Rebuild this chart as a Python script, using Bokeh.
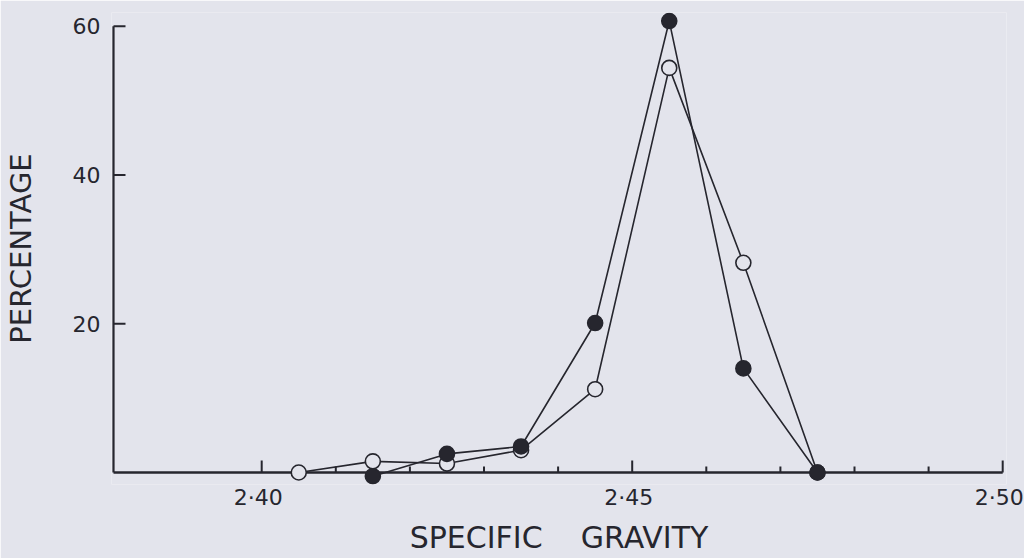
from bokeh.plotting import figure
from bokeh.models import FixedTicker, CustomJSTickFormatter, Range1d
from bokeh.embed import file_html
from bokeh.resources import INLINE

# ---- data ----
sg_open = [2.405, 2.415, 2.425, 2.435, 2.445, 2.455, 2.465, 2.475]
pct_open = [0.0, 1.5, 1.2, 3.0, 11.2, 54.4, 28.2, 0.0]
sg_filled = [2.415, 2.425, 2.435, 2.445, 2.455, 2.465, 2.475]
pct_filled = [-0.5, 2.5, 3.5, 20.1, 60.7, 14.0, 0.0]

x_major = [2.40, 2.45, 2.50]
x_minor = [2.41, 2.42, 2.43, 2.44, 2.46, 2.47, 2.48, 2.49]
y_major = [20, 40, 60]
x_axis_span = [2.38, 2.50]
y_axis_span = [0, 60]

INK = "#26262e"
BG = "#e3e4ec"
FONT = "DejaVu Sans"

# ---- layout (pixels) ----
XPX = 7410.0          # px per unit of specific gravity
YPX = 7.4375          # px per percent
LEFT, TOP, FW, FH = 110, 12, 895, 472
X0 = x_axis_span[0] - 2 / XPX
X1 = X0 + FW / XPX
Y1 = 460 / YPX        # axis line 460 px below frame top
Y0 = Y1 - FH / YPX

p = figure(frame_width=FW, frame_height=FH,
           x_range=Range1d(X0, X1), y_range=Range1d(Y0, Y1),
           output_backend="svg", toolbar_location=None,
           min_border_left=LEFT, min_border_right=1024 - LEFT - FW,
           min_border_top=TOP, min_border_bottom=558 - TOP - FH)
p.background_fill_color = BG
p.border_fill_color = BG
p.outline_line_color = None
p.grid.visible = False

maj_y = 12 / YPX
min_y = 6 / YPX
maj_x = 12 / XPX

# hand-drawn axes (the axis lines sit at data 0 / 2.38)
p.segment(x0=[x_axis_span[0]], y0=[0], x1=[x_axis_span[1]], y1=[0],
          line_color=INK, line_width=2.5)
p.segment(x0=[x_axis_span[0]], y0=[y_axis_span[0]], x1=[x_axis_span[0]], y1=[y_axis_span[1]],
          line_color=INK, line_width=2.2)
p.segment(x0=x_major, y0=[0] * len(x_major), x1=x_major, y1=[maj_y] * len(x_major),
          line_color=INK, line_width=2)
p.segment(x0=x_minor, y0=[0] * len(x_minor), x1=x_minor, y1=[min_y] * len(x_minor),
          line_color=INK, line_width=2)
p.segment(x0=[x_axis_span[0]] * len(y_major), y0=y_major,
          x1=[x_axis_span[0] + maj_x] * len(y_major), y1=y_major,
          line_color=INK, line_width=2)

# data
p.line(sg_open, pct_open, line_color=INK, line_width=1.6)
p.line(sg_filled, pct_filled, line_color=INK, line_width=1.6)
p.scatter(sg_open, pct_open, size=15, fill_color=BG, line_color=INK, line_width=1.6)
p.scatter(sg_filled, pct_filled, size=15, fill_color=INK, line_color=INK, line_width=1.6)

# axis labels via bokeh axes (lines hidden)
for ax in (p.xaxis, p.yaxis):
    ax.axis_line_color = None
    ax.major_tick_line_color = None
    ax.minor_tick_line_color = None
    ax.major_tick_out = 0
    ax.major_tick_in = 0
    ax.major_label_text_font = FONT
    ax.major_label_text_font_size = "22px"
    ax.major_label_text_color = INK
    ax.axis_label_text_font = FONT
    ax.axis_label_text_font_style = "normal"
    ax.axis_label_text_color = INK

# printed labels sit ~3.5 px left of their ticks in the original
LABEL_SHIFT = 3.5 / XPX
p.xaxis.ticker = FixedTicker(ticks=[t - LABEL_SHIFT for t in x_major])
p.xaxis.formatter = CustomJSTickFormatter(code="return tick.toFixed(2).replace('.', '\u00b7');")
p.xaxis.major_label_standoff = 0
p.xaxis.axis_label = "SPECIFIC\u00a0\u00a0\u00a0\u00a0GRAVITY"
p.xaxis.axis_label_text_font_size = "30px"
p.xaxis.axis_label_standoff = 7

p.yaxis.ticker = FixedTicker(ticks=y_major)
p.yaxis.major_label_standoff = 11
p.yaxis.axis_label = "PERCENTAGE"
p.yaxis.axis_label_text_font_size = "29px"
p.yaxis.axis_label_standoff = 32

open("out.html", "w").write(file_html(p, INLINE))
